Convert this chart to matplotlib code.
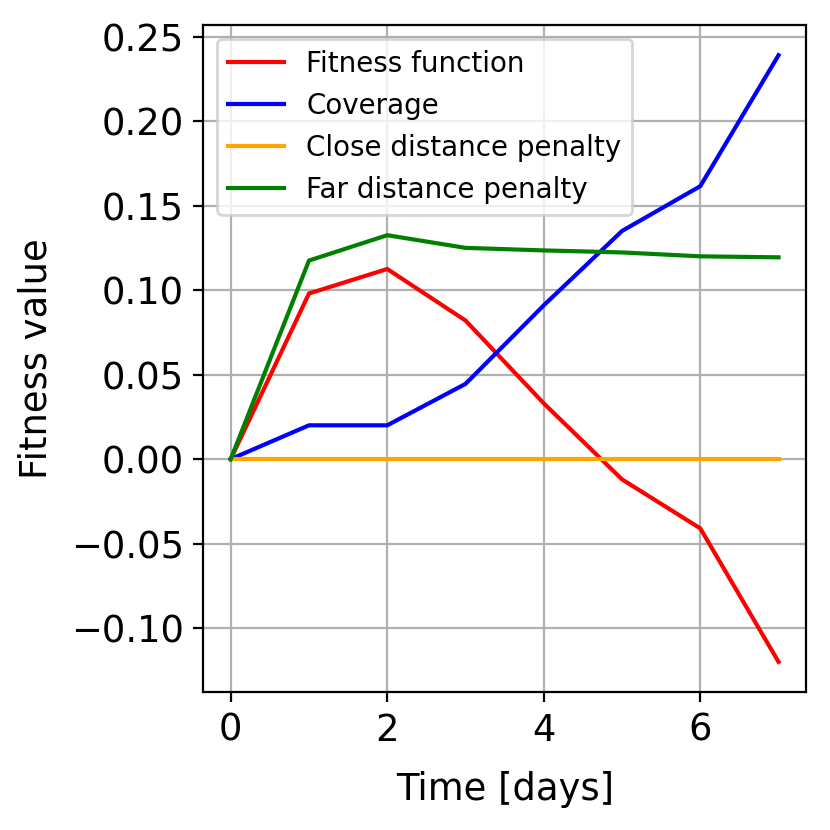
import matplotlib
matplotlib.use("Agg")
import matplotlib.pyplot as plt

# values
days = [0, 1, 2, 3, 4, 5, 6, 7]
fitness = [0.0, 0.098, 0.1125, 0.082, 0.033, -0.012, -0.041, -0.120]
coverage = [0.0, 0.020, 0.020, 0.0445, 0.091, 0.135, 0.1615, 0.239]
close_penalty = [0.0, 0.0, 0.0, 0.0, 0.0, 0.0, 0.0, 0.0]
far_penalty = [0.0, 0.1175, 0.1325, 0.125, 0.1235, 0.1223, 0.120, 0.1194]

fig = plt.figure(figsize=(4.15, 4.15), dpi=200)
ax = fig.add_axes([0.245, 0.166, 0.726, 0.804])

ax.plot(days, fitness, color='red', label='Fitness function')
ax.plot(days, coverage, color='blue', label='Coverage')
ax.plot(days, close_penalty, color='orange', label='Close distance penalty')
ax.plot(days, far_penalty, color='green', label='Far distance penalty')

ax.set_xlabel('Time [days]', fontsize=13.3, labelpad=8)
ax.set_ylabel('Fitness value', fontsize=13.3, labelpad=6)
ax.tick_params(labelsize=13.3)
ax.set_xticks([0, 2, 4, 6])
ax.grid(True)
ax.legend(loc='upper left', fontsize=10)

plt.savefig('out.png', dpi=200)
